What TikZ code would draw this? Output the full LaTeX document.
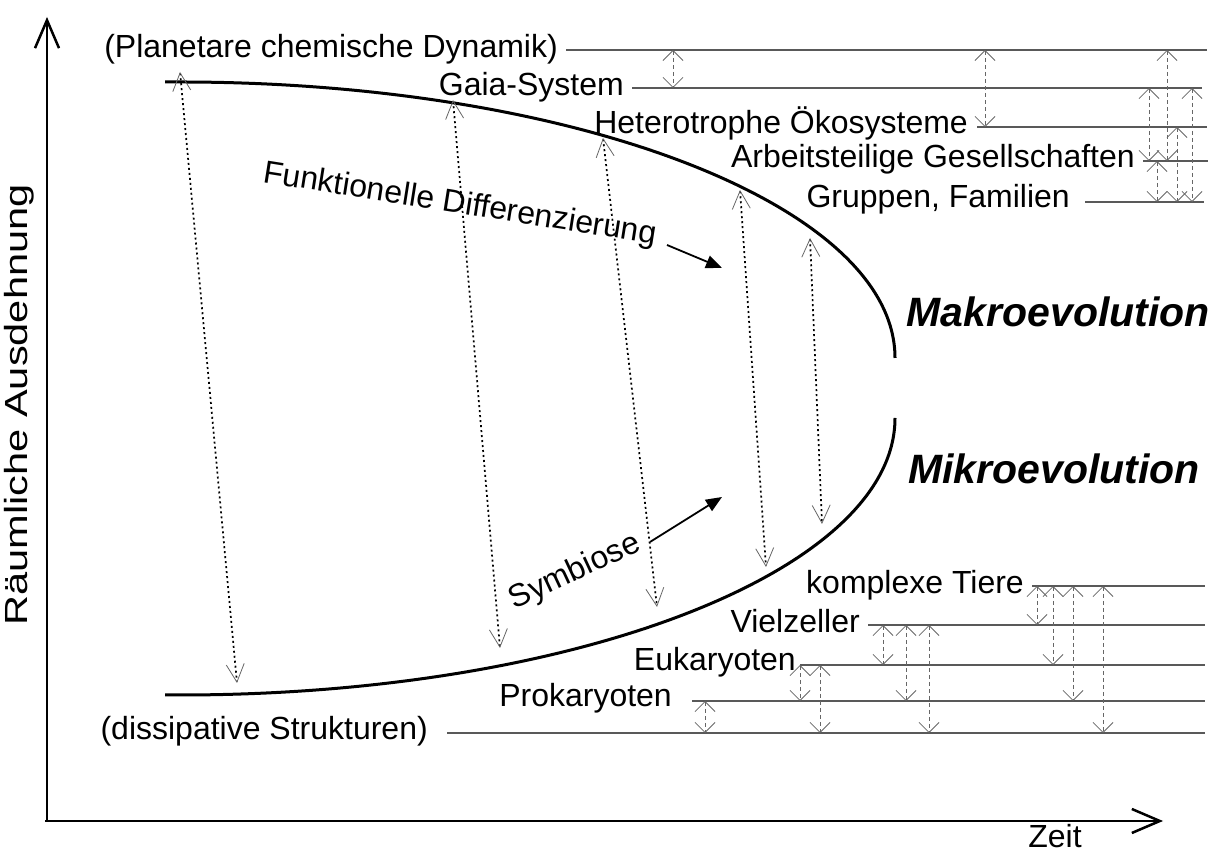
\documentclass[tikz,border=0pt]{standalone}
\usepackage{fontspec}
\setmainfont{Liberation Sans}
\usetikzlibrary{arrows.meta}
\begin{document}
\begin{tikzpicture}[x=1pt,y=1pt,
  lbl/.style={inner sep=0pt, font=\fontsize{32}{38}\selectfont},
  big/.style={inner sep=0pt, font=\fontsize{41}{48}\selectfont\bfseries\itshape},
  level/.style={black!65, line width=1.3pt},
  link/.style={black!60, line width=1pt, dash pattern=on 4pt off 3pt,
    {Straight Barb[length=10pt,width=20pt,line width=0.8pt]}-{Straight Barb[length=10pt,width=20pt,line width=0.8pt]}},
  span/.style={black, line width=1.7pt, dash pattern=on 2pt off 3pt,
    {Straight Barb[length=18pt,width=18pt,line width=0.8pt,color=black!60]}-{Straight Barb[length=18pt,width=18pt,line width=0.8pt,color=black!60]}},
  curve/.style={line width=3pt},
  axis/.style={line width=2.5pt, -{Straight Barb[length=28pt,width=24pt,line width=2.5pt]}},
  pointer/.style={line width=1.8pt, -{Triangle[length=16pt,width=13pt]}}]

\useasboundingbox (0,0) rectangle (1215,853);

% axes
\coordinate (O) at (47,32);
\coordinate (ytop) at (47,836);
\coordinate (xend) at (1163,32);
\draw[axis] (O) -- (ytop);
\draw[axis] ([xshift=-2pt]O) -- (xend);
\node[lbl, anchor=base] (zeit) at (1055,5) {Zeit};
\node[lbl, rotate=90] (raum) at (19,448) {\scalebox{1.3}[1]{Räumliche Ausdehnung}};

% envelope curves
\draw[curve] (165,771) -- (180,771) arc[start angle=90, end angle=0, x radius=715, y radius=276];
\draw[curve] (165,158) -- (180,158) arc[start angle=270, end angle=360, x radius=715, y radius=277];

% spanning dotted arrows
\coordinate (s1t) at (180,781); \coordinate (s1b) at (237,170);
\coordinate (s2t) at (453,753); \coordinate (s2b) at (500,205);
\coordinate (s3t) at (603,715); \coordinate (s3b) at (657,246);
\coordinate (s4t) at (740,663); \coordinate (s4b) at (766,286);
\coordinate (s5t) at (810,615); \coordinate (s5b) at (822,329);
\foreach \i in {1,...,5} \draw[span] (s\i t) -- (s\i b);

% labels inside
\node[lbl, rotate=-9] (fd) at (460,648) {Funktionelle Differenzierung};
\coordinate (fdtip) at (722,585);
\draw[pointer] (667,608) -- (fdtip);
\node[lbl, rotate=25] (sym) at (575,281) {Symbiose};
\coordinate (symtip) at (722,356);
\draw[pointer] (650,311) -- (symtip);

\node[big, anchor=base east] (makro) at (1210,526) {Makroevolution};
\node[big, anchor=base east] (mikro) at (1200,369) {Mikroevolution};

% upper levels
\node[lbl, anchor=base east] (t1) at (558,795) {(Planetare chemische Dynamik)};
\node[lbl, anchor=base east] (t2) at (624,757) {Gaia-System};
\node[lbl, anchor=base east] (t3) at (968,719) {Heterotrophe Ökosysteme};
\node[lbl, anchor=base east] (t4) at (1135,685) {Arbeitsteilige Gesellschaften};
\node[lbl, anchor=base east] (t5) at (1070,645) {Gruppen, Familien};
\coordinate (L1) at (566,803); \coordinate (L2) at (632,765); \coordinate (L3) at (977,726);
\coordinate (L4) at (1143,692); \coordinate (L5) at (1085,651);
\draw[level] (L1) -- (1207,0 |- L1);
\draw[level] (L2) -- (1202,0 |- L2);
\draw[level] (L3) -- (1207,0 |- L3);
\draw[level] (L4) -- (1208,0 |- L4);
\draw[level] (L5) -- (1204,0 |- L5);
\draw[link] (673,0 |- L1) -- (673,0 |- L2);
\draw[link] (985,0 |- L1) -- (985,0 |- L3);
\draw[link] (1149,0 |- L2) -- (1149,0 |- L4);
\draw[link] (1157,0 |- L4) -- (1157,0 |- L5);
\draw[link] (1167,0 |- L1) -- (1167,0 |- L4);
\draw[link] (1177,0 |- L3) -- (1177,0 |- L5);
\draw[link] (1192,0 |- L2) -- (1192,0 |- L5);

% lower levels
\node[lbl, anchor=base east] (b1) at (1024,259) {komplexe Tiere};
\node[lbl, anchor=base east] (b2) at (860,220) {Vielzeller};
\node[lbl, anchor=base east] (b3) at (796,182) {Eukaryoten};
\node[lbl, anchor=base east] (b4) at (672,146) {Prokaryoten};
\node[lbl, anchor=base east] (b5) at (428,113) {(dissipative Strukturen)};
\coordinate (B1) at (1032,267); \coordinate (B2) at (868,228); \coordinate (B3) at (800,188);
\coordinate (B4) at (692,152); \coordinate (B5) at (447,120);
\foreach \b in {B1,B2,B3,B4,B5} \draw[level] (\b) -- (1205,0 |- \b);
\draw[link] (705,0 |- B4) -- (705,0 |- B5);
\draw[link] (800,0 |- B3) -- (800,0 |- B4);
\draw[link] (820,0 |- B3) -- (820,0 |- B5);
\draw[link] (883,0 |- B2) -- (883,0 |- B3);
\draw[link] (906,0 |- B2) -- (906,0 |- B4);
\draw[link] (929,0 |- B2) -- (929,0 |- B5);
\draw[link] (1037,0 |- B1) -- (1037,0 |- B2);
\draw[link] (1053,0 |- B1) -- (1053,0 |- B3);
\draw[link] (1073,0 |- B1) -- (1073,0 |- B4);
\draw[link] (1103,0 |- B1) -- (1103,0 |- B5);
\end{tikzpicture}
\end{document}
